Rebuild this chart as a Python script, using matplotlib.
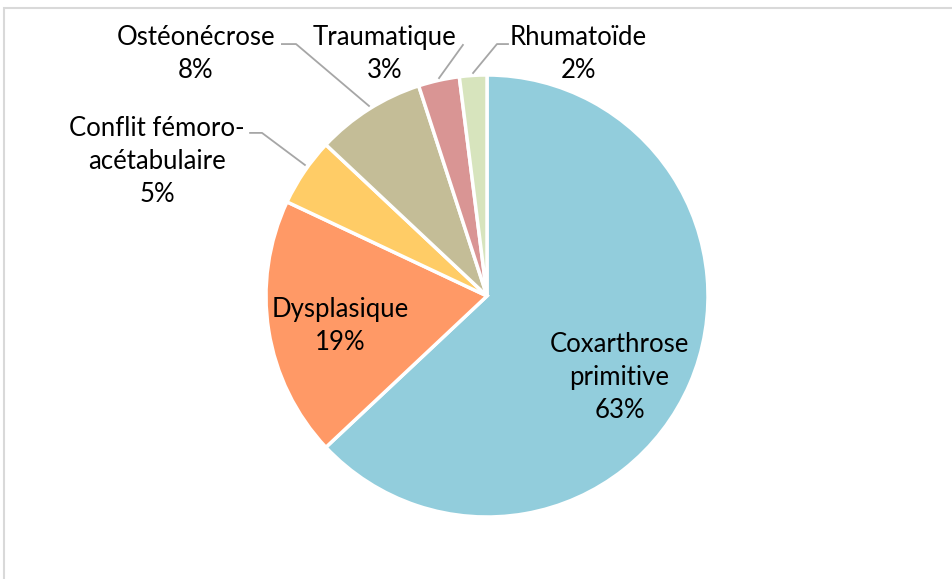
import matplotlib

matplotlib.use("Agg")
import matplotlib.pyplot as plt
from matplotlib.patches import Rectangle

# data
categories = [
    "Coxarthrose\nprimitive",
    "Dysplasique",
    "Conflit fémoro-\nacétabulaire",
    "Ostéonécrose",
    "Traumatique",
    "Rhumatoïde",
]
values = [63, 19, 5, 8, 3, 2]
colors = ["#92CDDC", "#FF9966", "#FFCC66", "#C4BD97", "#D99594", "#D7E4BD"]

# label centres (data coords, radius = 1) and optional leader lines
label_pos = [(0.60, -0.37), (-0.665, -0.136), (-1.493, 0.609),
             (-1.317, 1.093), (-0.462, 1.093), (0.412, 1.093)]
leaders = [
    None,
    None,
    [(-1.072, 0.738), (-1.018, 0.738), (-0.824, 0.593)],
    [(-0.928, 1.140), (-0.864, 1.140), (-0.534, 0.860)],
    [(-0.109, 1.136), (-0.217, 0.986)],
    [(0.095, 1.140), (0.045, 1.140), (-0.063, 1.009)],
]

plt.rcParams["font.family"] = ["Lato", "DejaVu Sans"]

W, H = 953, 579
fig = plt.figure(figsize=(W / 100, H / 100), dpi=100)
fig.patch.set_facecolor("white")

# chart frame, cropped on the right and bottom
fig.patches.append(Rectangle((4 / W, -0.1), 1.2, 1 - 8 / H + 0.1,
                             transform=fig.transFigure, fill=False,
                             edgecolor="#D9D9D9", linewidth=1.5))

cx, cy, r = 487, 296, 221
ax = fig.add_axes([(cx - r) / W, (H - cy - r) / H, 2 * r / W, 2 * r / H])
ax.pie(values, colors=colors, startangle=90, counterclock=False, radius=1,
       wedgeprops=dict(edgecolor="white", linewidth=2.5))
ax.set_xlim(-1, 1)
ax.set_ylim(-1, 1)
ax.set_aspect("equal")
ax.axis("off")

for name, v, (x, y), lead in zip(categories, values, label_pos, leaders):
    ax.text(x, y, f"{name}\n{v}%", ha="center", va="center", fontsize=18.5,
            linespacing=1.4, color="black", clip_on=False)
    if lead:
        xs, ys = zip(*lead)
        ax.plot(xs, ys, color="#A6A6A6", linewidth=1.3, clip_on=False)

fig.savefig("out.png", dpi=100)
